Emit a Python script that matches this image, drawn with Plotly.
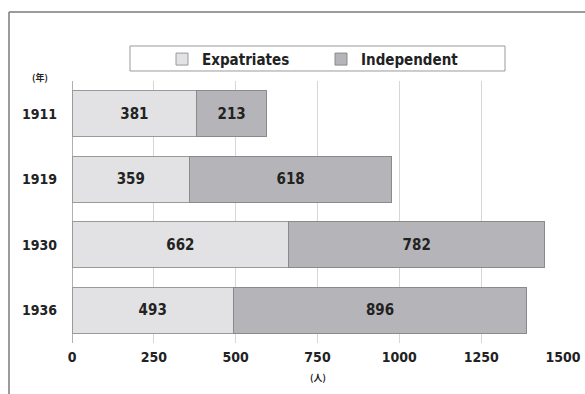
import plotly.graph_objects as go

years = ["1911", "1919", "1930", "1936"]
expatriates = [381, 359, 662, 493]
independent = [213, 618, 782, 896]
x_ticks = [0, 250, 500, 750, 1000, 1250, 1500]

FONT = "DejaVu Sans Condensed, Liberation Sans Narrow, sans-serif"
TEXT = "#222222"
EDGE = "#9a9a9a"

fig = go.Figure()
fig.add_trace(go.Bar(
    y=years, x=expatriates, orientation="h", name="<b>Expatriates</b>",
    marker=dict(color="#e2e2e4", line=dict(color=EDGE, width=1)),
    text=[f"<b>{v}</b>" for v in expatriates], textposition="inside",
    insidetextanchor="middle", textfont=dict(size=15, color=TEXT, family=FONT),
    width=0.7,
))
fig.add_trace(go.Bar(
    y=years, x=independent, orientation="h", name="<b>Independent</b>",
    marker=dict(color="#b5b5b9", line=dict(color="#8a8a8a", width=1)),
    text=[f"<b>{v}</b>" for v in independent], textposition="inside",
    insidetextanchor="middle", textfont=dict(size=15, color=TEXT, family=FONT),
    width=0.7,
))

fig.update_layout(
    width=585, height=394,
    barmode="stack",
    plot_bgcolor="white", paper_bgcolor="white",
    margin=dict(l=72, r=22, t=81, b=51),
    font=dict(family=FONT, color=TEXT),
    showlegend=True,
    legend=dict(
        orientation="h", x=0.1833, xanchor="left", y=1.0827, yanchor="middle",
        borderwidth=0, bgcolor="rgba(0,0,0,0)",
        font=dict(size=15, family=FONT, color=TEXT),
        entrywidth=114, traceorder="normal",
    ),
    uniformtext=dict(minsize=10, mode="show"),
)
fig.update_xaxes(
    range=[0, 1500], tickvals=x_ticks,
    ticktext=[f"<b>{t}</b>" for t in x_ticks],
    showgrid=True, gridcolor="#d6d6d6", gridwidth=1,
    zeroline=True, zerolinecolor="#b0b0b0", zerolinewidth=1,
    tickfont=dict(size=14, family=FONT, color=TEXT),
    ticks="", showline=False, automargin=False, ticklabelstandoff=4,
)
fig.update_yaxes(
    autorange="reversed",
    tickvals=years, ticktext=[f"<b>{y}</b>" for y in years],
    tickfont=dict(size=14, family=FONT, color=TEXT),
    ticks="", ticklabelstandoff=14, showgrid=False, showline=False,
    automargin=False,
)

# Legend box
fig.add_shape(type="rect", xref="paper", yref="paper",
              x0=0.1181, x1=0.8819, y0=1.0382, y1=1.1336,
              line=dict(color=EDGE, width=1), fillcolor="white", layer="below")

# Unit labels
fig.add_annotation(text="<b>(年)</b>", xref="paper", yref="paper",
                   x=-0.065, y=1.015, xanchor="center", yanchor="middle",
                   showarrow=False,
                   font=dict(size=9, family="Noto Sans CJK JP", color=TEXT))
fig.add_annotation(text="<b>(人)</b>", xref="x", yref="paper",
                   x=750, y=-0.132, xanchor="center", yanchor="middle",
                   showarrow=False,
                   font=dict(size=9, family="Noto Sans CJK JP", color=TEXT))

# Outer frame (top and left edges)
fig.add_shape(type="line", xref="paper", yref="paper", x0=-0.1283, x1=1.05,
              y0=1.2634, y1=1.2634, line=dict(color="#7a7a7a", width=1.5))
fig.add_shape(type="line", xref="paper", yref="paper", x0=-0.1283, x1=-0.1283,
              y0=1.2634, y1=-0.22, line=dict(color="#7a7a7a", width=1.5))

fig.write_html("out.html")
